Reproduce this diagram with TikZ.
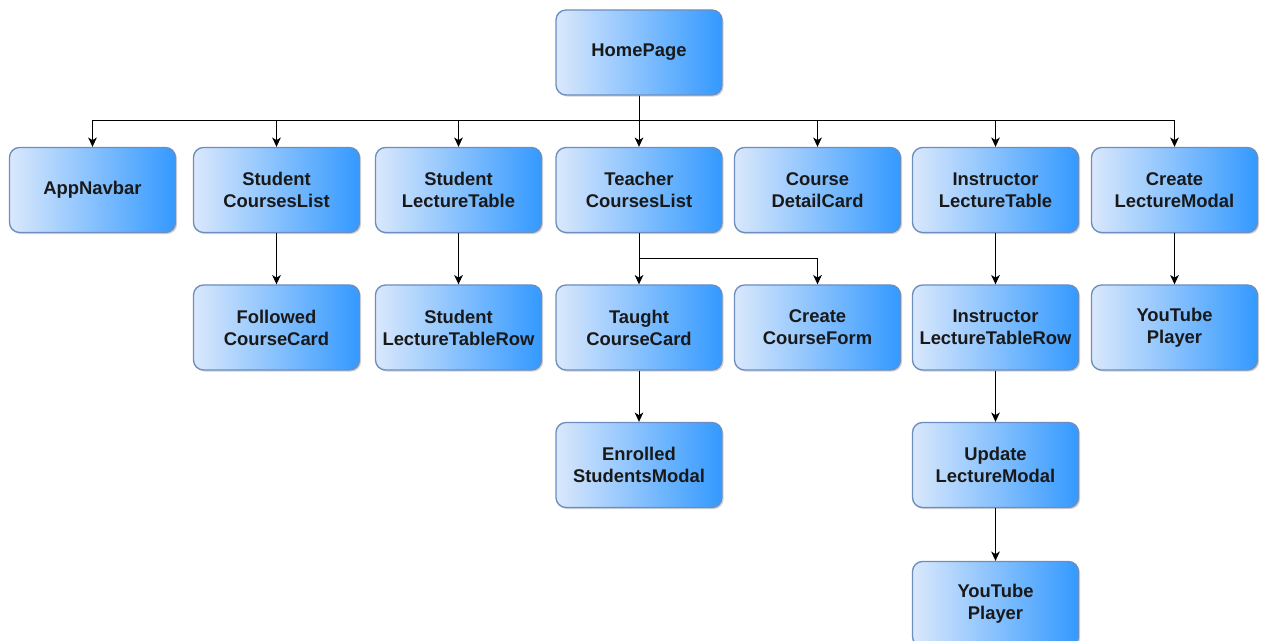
\documentclass[tikz,border=0pt]{standalone}
\usepackage{fontspec}
\setmainfont{Liberation Sans}
\usetikzlibrary{arrows.meta,shadows}
\definecolor{boxleft}{HTML}{DAE8FC}
\definecolor{boxright}{HTML}{3399FF}
\definecolor{boxline}{HTML}{6C8EBF}
\begin{document}
\begin{tikzpicture}[x=0.75pt,y=-0.75pt,
  comp/.style={draw=boxline, line width=1pt, rounded corners=7.5pt,
    minimum width=124.5pt, minimum height=63.75pt, inner sep=0pt,
    left color=boxleft, right color=boxright,
    drop shadow={shadow xshift=1.2pt, shadow yshift=-1.2pt, fill=black!35, opacity=0.5},
    align=center, font=\fontsize{13.8}{16.5}\selectfont\bfseries, text=black!90},
  link/.style={draw=black, line width=0.75pt, -{Stealth[length=7pt,width=6.5pt,inset=2pt]}}]
\useasboundingbox (0,0) rectangle (1262,641);

% top-level page
\node[comp] (home) at (639,52.5) {HomePage};

% first level components
\node[comp] (nav)   at (92.5,190)  {AppNavbar};
\node[comp] (scl)   at (276.5,190) {Student\\CoursesList};
\node[comp] (slt)   at (458.5,190) {Student\\LectureTable};
\node[comp] (tcl)   at (639,190)   {Teacher\\CoursesList};
\node[comp] (cdc)   at (817.5,190) {Course\\DetailCard};
\node[comp] (ilt)   at (995.5,190) {Instructor\\LectureTable};
\node[comp] (clm)   at (1174.5,190){Create\\LectureModal};

% second level
\node[comp] (fcc)   at (276.5,327.5) {Followed\\CourseCard};
\node[comp] (sltr)  at (458.5,327.5) {Student\\LectureTableRow};
\node[comp] (tcc)   at (639,327.5)   {Taught\\CourseCard};
\node[comp] (ccf)   at (817.5,327.5) {Create\\CourseForm};
\node[comp] (iltr)  at (995.5,327.5) {Instructor\\LectureTableRow};
\node[comp] (ytp1)  at (1174.5,327.5){YouTube\\Player};

% third and fourth levels
\node[comp] (esm)   at (639,465)   {Enrolled\\StudentsModal};
\node[comp] (ulm)   at (995.5,465) {Update\\LectureModal};
\node[comp] (ytp2)  at (995.5,604) {YouTube\\Player};

% bus lines
\coordinate (bus) at (0,121);
\coordinate (split) at (0,259);

\foreach \c in {nav,scl,slt,cdc,ilt,clm}
  \draw[link] (home.south) -- (home.south |- bus) -| (\c.north);
\draw[link] (home.south) -- (tcl.north);

\draw[link] (scl.south) -- (fcc.north);
\draw[link] (slt.south) -- (sltr.north);
\draw[link] (tcl.south) -- (tcc.north);
\draw[link] (tcl.south) -- (tcl.south |- split) -| (ccf.north);
\draw[link] (ilt.south) -- (iltr.north);
\draw[link] (clm.south) -- (ytp1.north);
\draw[link] (tcc.south) -- (esm.north);
\draw[link] (iltr.south) -- (ulm.north);
\draw[link] (ulm.south) -- (ytp2.north);
\end{tikzpicture}
\end{document}
